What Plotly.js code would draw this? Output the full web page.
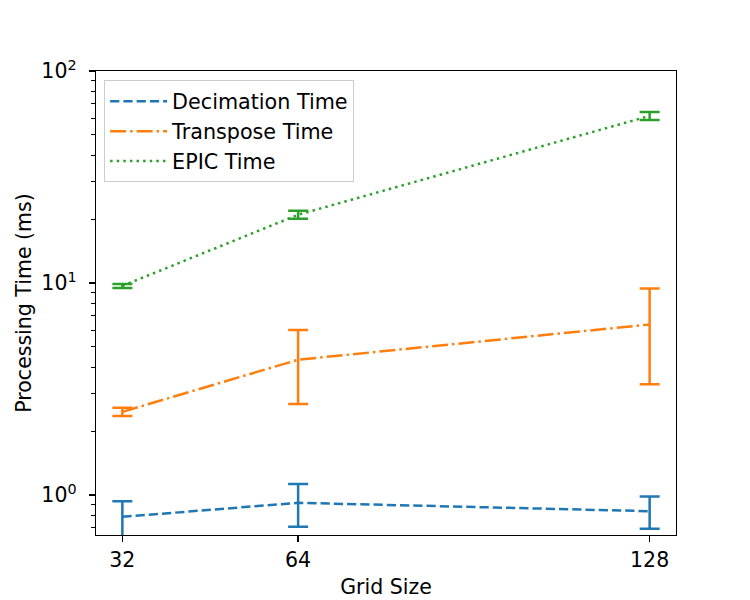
<!DOCTYPE html>
<html>
<head>
<meta charset="utf-8">
<script src="https://cdn.plot.ly/plotly-3.0.1.min.js"></script>
<style>
  html, body { margin: 0; padding: 0; background: #ffffff; }
  #chart { width: 750px; height: 600px; }
</style>
</head>
<body>
<div id="chart"></div>
<script>
// Grid sizes on the x axis
const gridSizes = [32, 64, 128];

// Mean processing times (ms) with upper / lower error extents
const decimationTime     = [0.79, 0.92, 0.84];
const decimationErrPlus  = [0.145, 0.21, 0.145];
const decimationErrMinus = [0.17, 0.21, 0.145];

const transposeTime      = [2.47, 4.35, 6.38];
const transposeErrPlus   = [0.11, 1.66, 3.05];
const transposeErrMinus  = [0.11, 1.66, 3.05];

const epicTime           = [9.7, 21.0, 61.4];
const epicErrPlus        = [0.21, 0.9, 2.7];
const epicErrMinus       = [0.21, 0.9, 2.7];

// Log-axis tick positions and labels
const majorTickVals = [1, 10, 100];
const majorTickText = ['10<sup>0</sup>', '10<sup>1</sup>', '10<sup>2</sup>'];
const minorTickVals = [0.7, 0.8, 0.9, 2, 3, 4, 5, 6, 7, 8, 9, 20, 30, 40, 50, 60, 70, 80, 90];

const FONT = 'DejaVu Sans, Liberation Sans, sans-serif';
const FS = 20.5;

function series(name, y, errPlus, errMinus, color, dash) {
  return {
    type: 'scatter',
    mode: 'lines',
    name: name,
    x: gridSizes,
    y: y,
    line: { color: color, width: 2.5, dash: dash },
    error_y: {
      type: 'data',
      symmetric: false,
      array: errPlus,
      arrayminus: errMinus,
      visible: true,
      color: color,
      thickness: 2.5,
      width: 10
    }
  };
}

const traces = [
  series('Decimation Time', decimationTime, decimationErrPlus, decimationErrMinus, '#1f77b4', '9.25px,4px'),
  series('Transpose Time', transposeTime, transposeErrPlus, transposeErrMinus, '#ff7f0e', '16px,4px,2.5px,4px'),
  series('EPIC Time', epicTime, epicErrPlus, epicErrMinus, '#2ca02c', '2.5px,4.1px')
];

const layout = {
  width: 750,
  height: 600,
  paper_bgcolor: '#ffffff',
  plot_bgcolor: '#ffffff',
  font: { family: FONT, size: FS, color: '#000000' },
  margin: { l: 96, r: 74, t: 71, b: 65, pad: 0 },
  showlegend: true,
  legend: {
    x: 0.014, y: 0.98,
    xanchor: 'left', yanchor: 'top',
    bgcolor: 'rgba(255,255,255,0.8)',
    bordercolor: '#cccccc',
    borderwidth: 1,
    itemwidth: 57,
    font: { family: FONT, size: 20.7, color: '#000000' },
    tracegroupgap: 0
  },
  xaxis: {
    type: 'linear',
    range: [27.2, 132.8],
    tickmode: 'array',
    tickvals: gridSizes,
    ticktext: gridSizes.map(String),
    ticks: 'outside',
    ticklen: 6,
    tickwidth: 1.3,
    tickcolor: '#000000',
    showgrid: false,
    zeroline: false,
    showline: true,
    linecolor: '#000000',
    linewidth: 1.3,
    mirror: true,
    tickfont: { family: FONT, size: FS, color: '#000000' },
    title: { text: 'Grid Size', font: { family: FONT, size: FS, color: '#000000' }, standoff: 8 }
  },
  yaxis: {
    type: 'log',
    range: [-0.188, 2],
    tickmode: 'array',
    tickvals: majorTickVals,
    ticktext: majorTickText,
    ticks: 'outside',
    ticklen: 6,
    tickwidth: 1.3,
    tickcolor: '#000000',
    ticklabelstandoff: 8,
    minor: {
      tickmode: 'array',
      tickvals: minorTickVals,
      ticks: 'outside',
      ticklen: 3.3,
      tickwidth: 1,
      tickcolor: '#000000',
      showgrid: false
    },
    showgrid: false,
    zeroline: false,
    showline: true,
    linecolor: '#000000',
    linewidth: 1.3,
    mirror: true,
    tickfont: { family: FONT, size: FS, color: '#000000' },
    title: { text: 'Processing Time (ms)', font: { family: FONT, size: FS, color: '#000000' }, standoff: 4 }
  }
};

Plotly.newPlot('chart', traces, layout, { displayModeBar: false, staticPlot: true });
</script>
</body>
</html>
